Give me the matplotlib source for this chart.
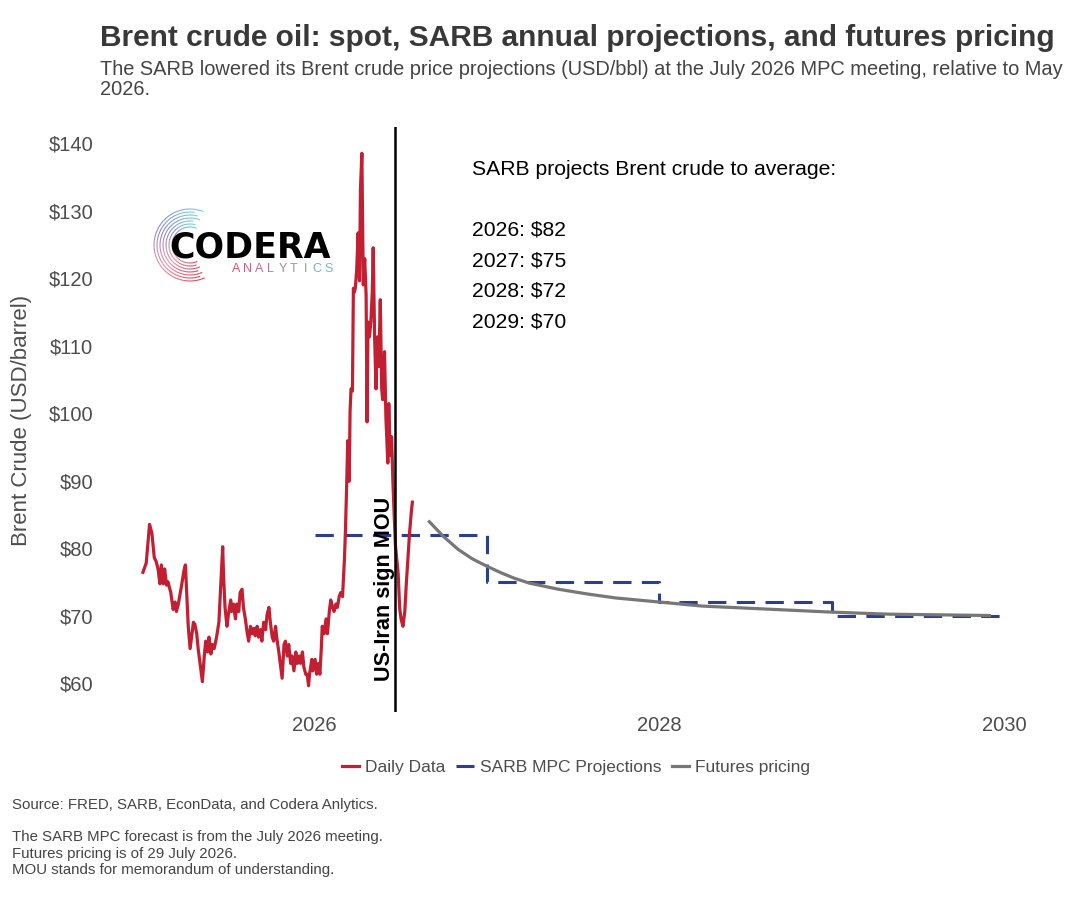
import matplotlib
matplotlib.use('Agg')
import matplotlib.pyplot as plt
import matplotlib.dates as mdates
from matplotlib.collections import LineCollection
from matplotlib.colors import to_rgb
import numpy as np
import pandas as pd

plt.rcParams['font.family'] = ['Liberation Sans', 'DejaVu Sans']
plt.rcParams['text.parse_math'] = False

# Brent spot (USD/bbl)
spot_dates = [
    '2025-01-02', '2025-01-09', '2025-01-13', '2025-01-16', '2025-01-21', '2025-01-26',
    '2025-01-30', '2025-02-03', '2025-02-07', '2025-02-10', '2025-02-14', '2025-02-17',
    '2025-02-21', '2025-02-24', '2025-03-02', '2025-03-07', '2025-03-11', '2025-03-14',
    '2025-03-18', '2025-03-25', '2025-03-30', '2025-04-02', '2025-04-05', '2025-04-08',
    '2025-04-12', '2025-04-15', '2025-04-19', '2025-04-22', '2025-04-26', '2025-04-29',
    '2025-05-03', '2025-05-08', '2025-05-12', '2025-05-15', '2025-05-19', '2025-05-22',
    '2025-05-26', '2025-05-29', '2025-06-02', '2025-06-07', '2025-06-12', '2025-06-17',
    '2025-06-20', '2025-06-22', '2025-06-25', '2025-06-29', '2025-07-02', '2025-07-07',
    '2025-07-09', '2025-07-13', '2025-07-17', '2025-07-20', '2025-07-24', '2025-07-27',
    '2025-07-31', '2025-08-03', '2025-08-07', '2025-08-10', '2025-08-14', '2025-08-18',
    '2025-08-21', '2025-08-25', '2025-08-28', '2025-09-01', '2025-09-04', '2025-09-08',
    '2025-09-11', '2025-09-15', '2025-09-19', '2025-09-22', '2025-09-26', '2025-09-29',
    '2025-10-03', '2025-10-06', '2025-10-10', '2025-10-13', '2025-10-17', '2025-10-21',
    '2025-10-24', '2025-10-28', '2025-10-31', '2025-11-04', '2025-11-07', '2025-11-11',
    '2025-11-14', '2025-11-18', '2025-11-22', '2025-11-25', '2025-11-29', '2025-12-02',
    '2025-12-06', '2025-12-09', '2025-12-13', '2025-12-16', '2025-12-19', '2025-12-21',
    '2025-12-26', '2025-12-28', '2026-01-02', '2026-01-05', '2026-01-09', '2026-01-12',
    '2026-01-15', '2026-01-17', '2026-01-21', '2026-01-25', '2026-01-28', '2026-02-01',
    '2026-02-04', '2026-02-08', '2026-02-11', '2026-02-15', '2026-02-18', '2026-02-22',
    '2026-02-25', '2026-03-01', '2026-03-05', '2026-03-07', '2026-03-10', '2026-03-12',
    '2026-03-15', '2026-03-17', '2026-03-19', '2026-03-22', '2026-03-24', '2026-03-26',
    '2026-03-28', '2026-03-31', '2026-04-03', '2026-04-06', '2026-04-08', '2026-04-11',
    '2026-04-14', '2026-04-17', '2026-04-20', '2026-04-22', '2026-04-24', '2026-04-27',
    '2026-04-30', '2026-05-03', '2026-05-05', '2026-05-08', '2026-05-11', '2026-05-14',
    '2026-05-17', '2026-05-20', '2026-05-23', '2026-05-25', '2026-05-29', '2026-06-01',
    '2026-06-05', '2026-06-07', '2026-06-10', '2026-06-13', '2026-06-16', '2026-06-19',
    '2026-06-21', '2026-06-24', '2026-06-27', '2026-06-30', '2026-07-03', '2026-07-07',
    '2026-07-11', '2026-07-14', '2026-07-18', '2026-07-21', '2026-07-25', '2026-07-27',
]
spot_usd = [
    76.4, 77.8, 81.1, 83.5, 82.2, 78.6,
    78.0, 76.9, 74.7, 77.5, 74.7, 76.9,
    74.5, 75.0, 73.4, 70.9, 72.0, 70.6,
    71.7, 74.5, 76.7, 77.5, 72.8, 68.4,
    65.1, 66.8, 69.0, 68.7, 67.3, 65.1,
    62.9, 60.2, 64.0, 66.2, 64.6, 66.8,
    64.3, 65.7, 65.1, 66.8, 69.0, 76.1,
    80.2, 75.6, 71.2, 68.4, 70.1, 72.3,
    70.6, 71.7, 69.5, 71.7, 70.6, 73.4,
    73.9, 71.2, 69.5, 67.9, 66.2, 68.4,
    67.3, 68.1, 67.0, 68.4, 66.8, 67.9,
    66.2, 69.0, 67.9, 70.1, 71.2, 69.0,
    66.8, 66.2, 68.4, 66.5, 64.6, 62.4,
    60.7, 65.7, 66.2, 64.0, 65.7, 62.9,
    64.0, 61.8, 64.6, 62.9, 64.0, 62.9,
    64.6, 62.4, 61.3, 61.3, 59.6, 61.3,
    63.5, 61.8, 63.5, 61.3, 62.9, 61.3,
    65.1, 68.4, 67.3, 69.5, 67.3, 70.6,
    72.3, 71.2, 70.6, 71.7, 71.2, 72.8,
    73.4, 72.8, 78.3, 82.2, 89.9, 95.9,
    89.9, 100.3, 103.6, 103.3, 118.5, 117.9,
    118.5, 121.2, 126.7, 119.6, 133.3, 138.5,
    119.0, 122.9, 117.4, 98.7, 113.5, 111.3,
    113.5, 117.9, 124.5, 111.3, 103.6, 111.3,
    106.9, 116.8, 103.6, 102.0, 109.1, 99.2,
    92.6, 101.4, 93.7, 96.5, 89.3, 83.8,
    80.5, 78.3, 76.1, 71.2, 69.5, 68.4,
    70.6, 74.5, 78.9, 82.2, 85.5, 86.8,
]

# futures curve as of 29 July 2026
fut_dates = ['2026-09-01', '2026-10-01', '2026-11-01', '2026-12-01', '2027-01-01', '2027-02-01',
             '2027-03-01', '2027-04-01', '2027-06-01', '2027-08-01', '2027-10-01', '2028-01-01',
             '2028-04-01', '2028-09-01', '2029-01-01', '2029-05-01', '2029-12-01']
fut_usd = [83.9, 81.7, 79.8, 78.4, 77.3, 76.3,
           75.5, 74.8, 73.9, 73.2, 72.6, 72.0,
           71.4, 70.9, 70.5, 70.2, 70.0]

# SARB MPC annual projections (July 2026)
proj_years = [2026, 2027, 2028, 2029]
proj_usd = [82, 75, 72, 70]

mou_date = '2026-06-20'

RED = '#c21f32'
BLUE = '#2b3f8c'
GREY = '#777777'
TXT = '#4d4d4d'

fig = plt.figure(figsize=(10.8, 9), dpi=100)
ax = fig.add_axes([100 / 1080, 1 - 712 / 900, 947 / 1080, 585 / 900])

# step line: each year's value held from 1 Jan to 1 Jan
step_x = pd.to_datetime([f'{y}-01-01' for y in proj_years + [proj_years[-1] + 1]])
step_y = proj_usd + [proj_usd[-1]]
l_proj, = ax.plot(step_x, step_y, drawstyle='steps-post', color=BLUE, lw=2.2,
                  dashes=(6, 3.4), zorder=2, label='SARB MPC Projections')
l_spot, = ax.plot(pd.to_datetime(spot_dates), spot_usd, color=RED, lw=2.3,
                  zorder=3, label='Daily Data')
l_fut, = ax.plot(pd.to_datetime(fut_dates), fut_usd, color=GREY, lw=2.3,
                 zorder=3, label='Futures pricing')
ax.axvline(pd.Timestamp(mou_date), color='black', lw=1.8, zorder=4)
ax.text(pd.Timestamp(mou_date), 60.3, 'US-Iran sign MOU', rotation=90, ha='right',
        va='bottom', fontsize=15.6, fontweight='bold', color='black', zorder=5)

ax.set_xlim(pd.Timestamp('2024-10-03'), pd.Timestamp('2030-04-02'))
ax.set_ylim(55.7, 142.4)
ax.set_xticks(pd.to_datetime(['2026-01-01', '2028-01-01', '2030-01-01']))
ax.xaxis.set_major_formatter(mdates.DateFormatter('%Y'))
ax.set_yticks([60, 70, 80, 90, 100, 110, 120, 130, 140])
ax.yaxis.set_major_formatter(plt.FuncFormatter(lambda v, p: f'${v:.0f}'))
ax.tick_params(length=0, labelsize=14.5, labelcolor=TXT)
ax.tick_params(axis='x', pad=3)
ax.tick_params(axis='y', pad=5)
for s in ax.spines.values():
    s.set_visible(False)

ax.text(0.393, 0.944, 'SARB projects Brent crude to average:', transform=ax.transAxes,
        fontsize=15.2, va='top', ha='left', color='black')
ax.text(0.393, 0.84, '\n'.join(f'{y}: ${v}' for y, v in zip(proj_years, proj_usd)),
        transform=ax.transAxes, fontsize=15.2, va='top', ha='left',
        linespacing=1.78, color='black')

fig.text(22 / 1080, 1 - 420 / 900, 'Brent Crude (USD/barrel)', rotation=90,
         ha='center', va='center', fontsize=16, color=TXT)

fig.text(100 / 1080, 1 - 38 / 900,
         'Brent crude oil: spot, SARB annual projections, and futures pricing',
         fontsize=21.5, fontweight='bold', color='#383838', ha='left', va='center')
fig.text(100 / 1080, 1 - 60 / 900,
         'The SARB lowered its Brent crude price projections (USD/bbl) at the July 2026 MPC meeting, relative to May\n2026.',
         fontsize=14.4, color='#444444', ha='left', va='top', linespacing=1.08)

fig.legend(handles=[l_spot, l_proj, l_fut], loc='center', ncol=3,
           bbox_to_anchor=(576 / 1080, 1 - 767 / 900), frameon=False,
           fontsize=12.5, labelcolor=TXT, handlelength=1.0, handletextpad=0.35,
           columnspacing=0.6)

fig.text(12 / 1080, 1 - 798 / 900,
         'Source: FRED, SARB, EconData, and Codera Anlytics.\n\n'
         'The SARB MPC forecast is from the July 2026 meeting.\n'
         'Futures pricing is of 29 July 2026.\n'
         'MOU stands for memorandum of understanding.',
         fontsize=10.8, color='#444444', ha='left', va='top', linespacing=1.2)

# Codera logo, drawn in pixel units
logo = fig.add_axes([140 / 1080, 1 - 290 / 900, 200 / 1080, 90 / 900])
logo.set_xlim(140, 340)
logo.set_ylim(900 - 290, 900 - 200)
logo.axis('off')
stops = [to_rgb(c) for c in ['#6fd3e0', '#8a86c8', '#e58fa3', '#d9425a']]
cx, cy = 190, 900 - 245
segs, cols = [], []
for k, r in enumerate([18, 21, 24, 27, 30, 33, 36]):
    t0 = 68 + 7 * (k % 3)
    t1 = 294 - 6 * (k % 2)
    th = np.radians(np.linspace(t0, t1, 40))
    pts = np.column_stack([cx + r * np.cos(th), cy + r * np.sin(th)])
    for i in range(len(pts) - 1):
        f = i / (len(pts) - 2) * (len(stops) - 1)
        j = min(int(f), len(stops) - 2)
        w = f - j
        cols.append(tuple((1 - w) * a + w * b for a, b in zip(stops[j], stops[j + 1])))
        segs.append(pts[i:i + 2])
logo.add_collection(LineCollection(segs, colors=cols, linewidths=0.8))
logo.text(250, 900 - 247, 'CODERA', fontsize=25, fontweight='bold', ha='center',
          va='center', color='black', family='DejaVu Sans')
c0, c1 = np.array(to_rgb('#d9546e')), np.array(to_rgb('#6ab8dc'))
for i, ch in enumerate('ANALYTICS'):
    w = i / 8
    logo.text(236 + i * 11.6, 900 - 269, ch, fontsize=9, ha='center', va='center',
              color=tuple((1 - w) * c0 + w * c1))

fig.savefig('out.png', dpi=100, facecolor='white')
